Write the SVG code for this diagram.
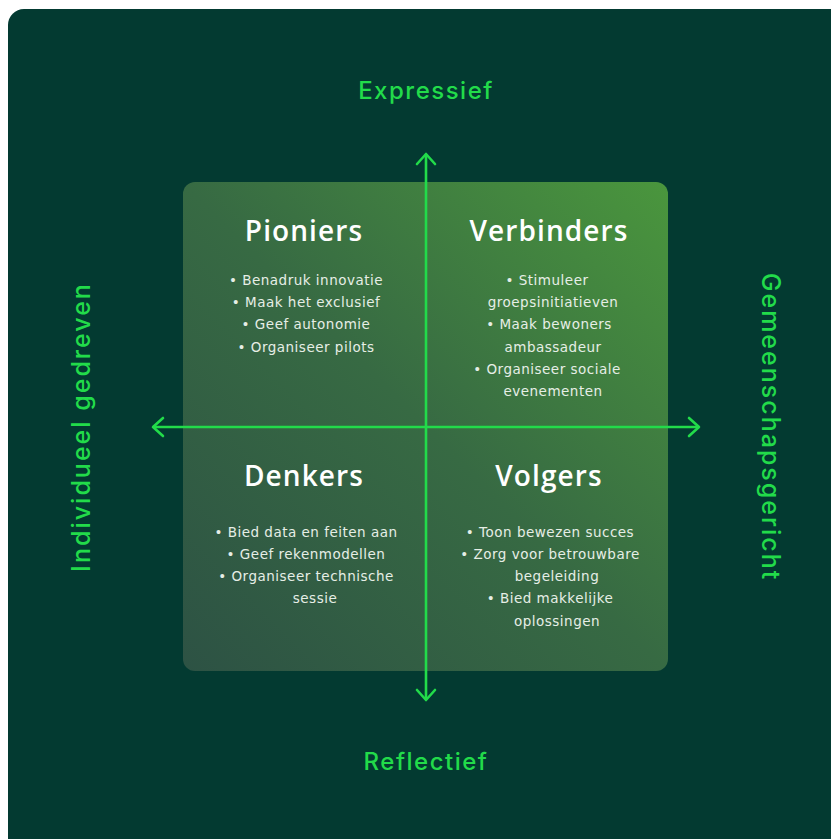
<svg xmlns="http://www.w3.org/2000/svg" width="831" height="839" viewBox="0 0 831 839">
  <defs>
    <linearGradient id="quadFill" x1="0" y1="1" x2="1" y2="0">
      <stop offset="0" stop-color="#2d5244"/>
      <stop offset="0.5" stop-color="#376a43"/>
      <stop offset="1" stop-color="#4a963d"/>
    </linearGradient>
    <marker id="chev" viewBox="-12 -11 14 22" markerWidth="14" markerHeight="22" refX="0" refY="0" orient="auto-start-reverse" markerUnits="userSpaceOnUse">
      <path d="M-10,-9 L0,0 L-10,9" fill="none" stroke="#22db4a" stroke-width="2.6" stroke-linecap="round" stroke-linejoin="round"/>
    </marker>
    <style>
      .axis-label { font-family: Inter, "Noto Sans", "DejaVu Sans", sans-serif; font-weight: 500; font-size: 24px; letter-spacing: 1.5px; fill: #22db4a; text-anchor: middle; }
      .axis-label.side { font-size: 25px; letter-spacing: 2px; }
      .title { font-family: "Open Sans", Inter, "Noto Sans", sans-serif; font-weight: 600; font-size: 28px; letter-spacing: 1.1px; fill: #ffffff; text-anchor: middle; }
      .item { font-family: "DejaVu Sans", "Noto Sans", sans-serif; font-weight: 400; font-size: 13.5px; letter-spacing: 0.5px; fill: #e6eee6; text-anchor: middle; }
      .axis { stroke: #22db4a; stroke-width: 2.6; fill: none; }
    </style>
  </defs>

  <!-- background panel -->
  <rect x="8" y="9" width="840" height="846" rx="16" fill="#033a31"/>

  <!-- quadrant field -->
  <rect x="183" y="182" width="485" height="489" rx="12" fill="url(#quadFill)"/>

  <!-- axes -->
  <g id="connectors">
    <line class="axis" x1="426" y1="427" x2="426" y2="154" marker-end="url(#chev)"/>
    <line class="axis" x1="426" y1="427" x2="426" y2="700" marker-end="url(#chev)"/>
    <line class="axis" x1="426" y1="427" x2="153" y2="427" marker-end="url(#chev)"/>
    <line class="axis" x1="426" y1="427" x2="699" y2="427" marker-end="url(#chev)"/>
  </g>

  <!-- axis labels -->
  <g id="label-expressief"><text class="axis-label" x="426" y="99">Expressief</text></g>
  <g id="label-reflectief"><text class="axis-label" x="426" y="770">Reflectief</text></g>
  <g id="label-individueel"><text class="axis-label side" transform="translate(90,427) rotate(-90)">Individueel gedreven</text></g>
  <g id="label-gemeenschap"><text class="axis-label side" transform="translate(762,427) rotate(90)">Gemeenschapsgericht</text></g>

  <!-- quadrants -->
  <g id="pioniers">
    <text class="title" x="304" y="241">Pioniers</text>
    <text class="item" x="306" y="285">•  Benadruk innovatie</text>
    <text class="item" x="306" y="307">•  Maak het exclusief</text>
    <text class="item" x="306" y="329">•  Geef autonomie</text>
    <text class="item" x="306" y="352">•  Organiseer pilots</text>
  </g>

  <g id="verbinders">
    <text class="title" x="549" y="241">Verbinders</text>
    <text class="item" x="547" y="285">•  Stimuleer</text>
    <text class="item" x="553" y="307">groepsinitiatieven</text>
    <text class="item" x="549" y="329">•  Maak bewoners</text>
    <text class="item" x="553" y="352">ambassadeur</text>
    <text class="item" x="547" y="374">•  Organiseer sociale</text>
    <text class="item" x="553" y="396">evenementen</text>
  </g>

  <g id="denkers">
    <text class="title" x="304" y="486">Denkers</text>
    <text class="item" x="306" y="537">•  Bied data en feiten aan</text>
    <text class="item" x="306" y="559">•  Geef rekenmodellen</text>
    <text class="item" x="306" y="581">•  Organiseer technische</text>
    <text class="item" x="315" y="603">sessie</text>
  </g>

  <g id="volgers">
    <text class="title" x="549" y="486">Volgers</text>
    <text class="item" x="550" y="537">•  Toon bewezen succes</text>
    <text class="item" x="550" y="559">•  Zorg voor betrouwbare</text>
    <text class="item" x="557" y="581">begeleiding</text>
    <text class="item" x="550" y="603">•  Bied makkelijke</text>
    <text class="item" x="557" y="626">oplossingen</text>
  </g>
</svg>
